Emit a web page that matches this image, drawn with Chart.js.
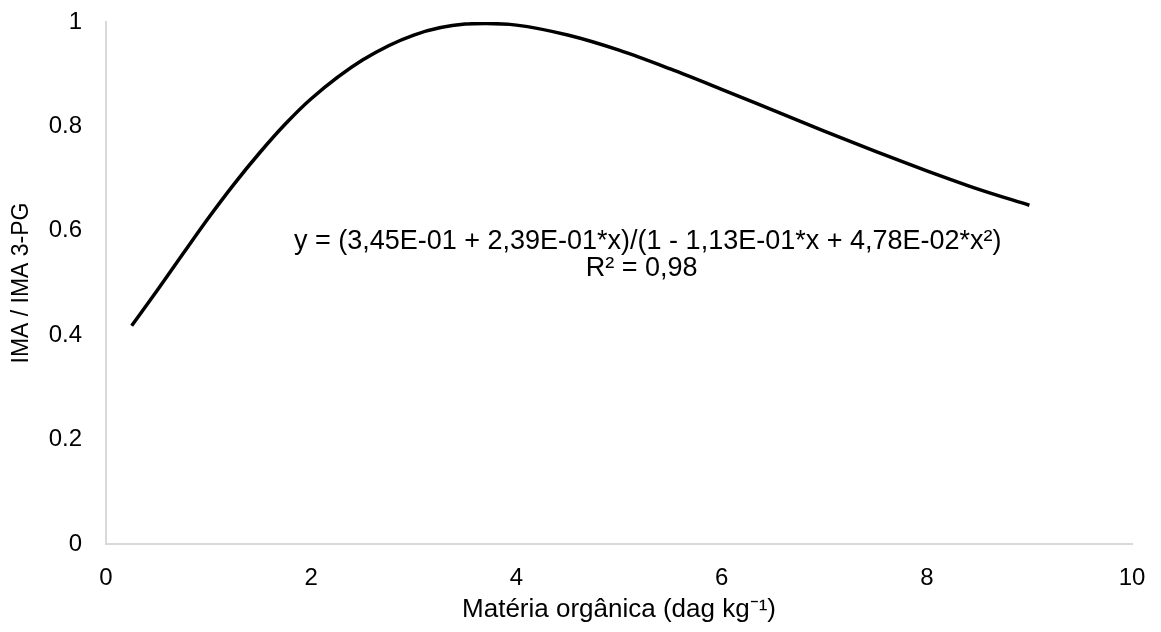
<!DOCTYPE html>
<html>
<head>
<meta charset="utf-8">
<script src="https://cdn.jsdelivr.net/npm/chart.js@4/dist/chart.umd.min.js"></script>
<style>
  html, body { margin: 0; padding: 0; background: #fff; }
  #wrap { width: 1161px; height: 632px; }
</style>
</head>
<body>
<div id="wrap"><canvas id="mychart" width="1161" height="632"></canvas></div>
<script>
//. valores
var mo = [ 0.25, 0.5, 0.75, 1, 1.25, 1.5, 1.75, 2, 2.5, 3, 3.5, 3.7, 4, 4.5, 5, 5.5, 6, 6.5, 7, 7.5, 8, 8.5, 9 ];
var ima = [ 0.418, 0.486, 0.556, 0.625, 0.69, 0.75, 0.805, 0.853, 0.927, 0.975, 0.996, 0.997, 0.994, 0.975, 0.946, 0.91, 0.871, 0.831, 0.791, 0.752, 0.715, 0.68, 0.649 ];
var xTicks = [ 0, 2, 4, 6, 8, 10 ];
var yTicks = [ 0, 0.2, 0.4, 0.6, 0.8, 1 ];
var eqLines = [ 'y = (3,45E-01 + 2,39E-01*x)/(1 - 1,13E-01*x + 4,78E-02*x²)', 'R² = 0,98' ];
var eqPos = [ { x: 5.28, y: 0.58 }, { x: 5.22, y: 0.528 } ];

var font = 'Liberation Sans, Arial, sans-serif';
var axisc = '#d9d9d9';

var points = [];
for( var i = 0; i < mo.length; i ++ ){
  points.push( { x: mo[i], y: ima[i] } );
}

//. equação da regressão
var eqPlugin = {
  id: 'eq',
  afterDatasetsDraw: function( chart ){
    var ctx = chart.ctx;
    var sx = chart.scales.x, sy = chart.scales.y;
    ctx.save();
    ctx.font = '27px ' + font;
    ctx.fillStyle = '#000';
    ctx.textAlign = 'center';
    ctx.textBaseline = 'middle';
    for( var i = 0; i < eqLines.length; i ++ ){
      ctx.fillText( eqLines[i], sx.getPixelForValue( eqPos[i].x ), sy.getPixelForValue( eqPos[i].y ) );
    }
    ctx.restore();
  }
};

var ctx = document.getElementById( 'mychart' );
var chart = new Chart( ctx, {
  type: 'line',
  data: {
    datasets: [
      {
        data: points,
        borderColor: '#000',
        borderWidth: 3.5,
        pointRadius: 0,
        fill: false,
        cubicInterpolationMode: 'monotone'
      }
    ]
  },
  options: {
    responsive: false,
    animation: false,
    layout: { padding: { top: 22, right: 29, left: 0, bottom: 0 } },
    plugins: { legend: { display: false }, tooltip: { enabled: false } },
    scales: {
      x: {
        type: 'linear',
        min: 0,
        max: 10,
        afterBuildTicks: function( axis ){
          axis.ticks = xTicks.map( function( v ){ return { value: v }; } );
        },
        afterFit: function( axis ){
          axis.height = 88;
          axis.paddingLeft = 0;
          axis.paddingRight = 0;
        },
        grid: { display: true, drawOnChartArea: false, drawTicks: false },
        border: { display: true, color: axisc, width: 2 },
        ticks: {
          color: '#000', font: { family: font, size: 24 }, padding: 20, maxRotation: 0,
          callback: function( v ){ return String( v ); }
        },
        title: {
          display: true,
          text: 'Matéria orgânica (dag kg⁻¹)',
          color: '#000',
          font: { family: font, size: 26 },
          padding: { top: 0, bottom: 7 }
        }
      },
      y: {
        min: 0,
        max: 1,
        afterBuildTicks: function( axis ){
          axis.ticks = yTicks.map( function( v ){ return { value: v }; } );
        },
        afterFit: function( axis ){
          axis.width = 106;
          axis.paddingTop = 0;
          axis.paddingBottom = 0;
        },
        grid: { display: true, drawOnChartArea: false, drawTicks: false },
        border: { display: true, color: axisc, width: 2 },
        ticks: {
          color: '#000', font: { family: font, size: 24 }, padding: 24,
          callback: function( v ){ return String( v ); }
        },
        title: {
          display: true,
          text: 'IMA / IMA 3-PG',
          color: '#000',
          font: { family: font, size: 23 },
          padding: { top: 8, bottom: 0 }
        }
      }
    }
  },
  plugins: [ eqPlugin ]
});
</script>
</body>
</html>
